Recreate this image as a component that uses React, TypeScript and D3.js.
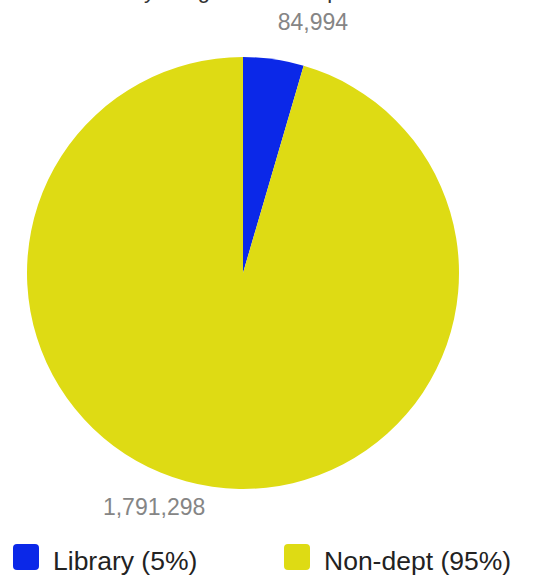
import React from "react";
import * as d3 from "d3";

const categories = ["Library", "Non-dept"];
const values = [84994, 1791298];
const colors = ["#0b28e8", "#dedb14"];
const title = "Library budget vs. total spend";

const W = 544;
const H = 578;
const cx = 243;
const cy = 273;
const R = 216;
const labelR = 245;

export default function App() {
  const total = d3.sum(values);
  const pie = d3.pie<number>().sort(null).value((d) => d)(values);
  const arc = d3.arc<d3.PieArcDatum<number>>().innerRadius(0).outerRadius(R);
  const fmt = d3.format(",");
  const pct = d3.format(".0%");
  const legendX = [13, 284];
  return (
    <div style={{ position: "absolute", left: 0, top: 0 }}>
      <svg width={W} height={H} style={{ display: "block", fontFamily: "'Liberation Sans', Arial, sans-serif" }}>
        <text x={232} y={-2} textAnchor="middle" fontSize={22} fill="#333">{title}</text>
        <g transform={`translate(${cx},${cy})`}>
          {pie.map((p, i) => (
            <path key={i} d={arc(p) || ""} fill={colors[i]} />
          ))}
          {pie.map((p, i) => {
            const mid = (p.startAngle + p.endAngle) / 2;
            const x = labelR * Math.sin(mid);
            const y = -labelR * Math.cos(mid);
            return (
              <text
                key={"l" + i}
                x={x + (x >= 0 ? 0 : -3)}
                y={y - 0.5}
                textAnchor={x >= 0 ? "start" : "end"}
                fontSize={23}
                fill="#858585"
              >
                {fmt(values[i])}
              </text>
            );
          })}
        </g>
        {categories.map((c, i) => (
          <g key={c} transform={`translate(${legendX[i]},544)`}>
            <rect width={26} height={26} rx={4} fill={colors[i]} />
            <text x={40} y={26} fontSize={26.5} fill="#222">
              {`${c} (${pct(values[i] / total)})`}
            </text>
          </g>
        ))}
      </svg>
    </div>
  );
}
